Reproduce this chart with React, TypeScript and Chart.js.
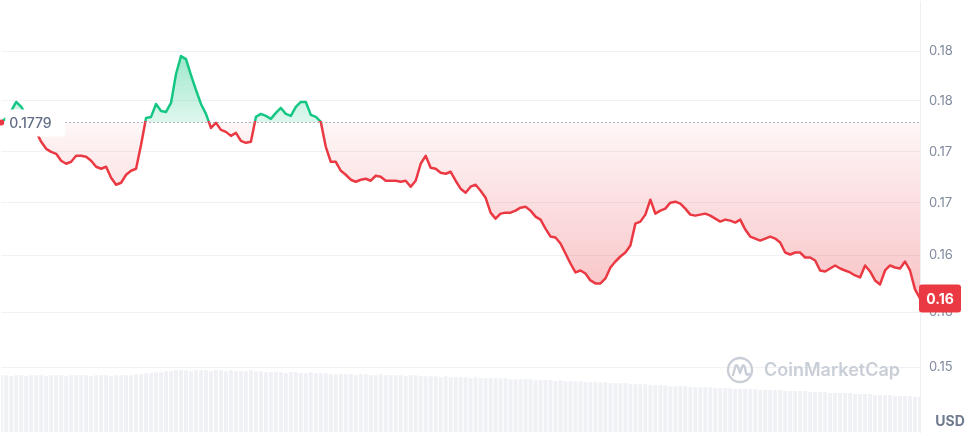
import React, { useEffect, useRef } from "react";
import { Chart, registerables } from "chart.js";

Chart.register(...registerables);

// Price (USD), one sample every ~7.8 minutes over 24h
const PRICES = [
  0.1779, 0.1783, 0.179, 0.1799, 0.1794, 0.1786, 0.1777, 0.1769, 0.1759, 0.1752,
  0.1749, 0.1747, 0.174, 0.1737, 0.1739, 0.1745, 0.1745, 0.1744, 0.174, 0.1734,
  0.1732, 0.1734, 0.1723, 0.1716, 0.1718, 0.1726, 0.173, 0.1732, 0.1756, 0.1783,
  0.1784, 0.1797, 0.179, 0.1789, 0.1798, 0.1827, 0.1845, 0.1842, 0.1826, 0.1811,
  0.1797, 0.1787, 0.1773, 0.1778, 0.1771, 0.1769, 0.1765, 0.1768, 0.176, 0.1758,
  0.1759, 0.1784, 0.1787, 0.1785, 0.1782, 0.1788, 0.1793, 0.1787, 0.1785, 0.1794,
  0.1799, 0.1799, 0.1786, 0.1784, 0.1779, 0.1754, 0.1739, 0.1739, 0.173, 0.1726,
  0.1721, 0.1719, 0.1721, 0.1722, 0.172, 0.1725, 0.1724, 0.172, 0.172, 0.172,
  0.1719, 0.172, 0.1714, 0.172, 0.1737, 0.1745, 0.1733, 0.1732, 0.1728, 0.1727,
  0.1729, 0.172, 0.1712, 0.1708, 0.1714, 0.1716, 0.171, 0.1703, 0.1688, 0.1682,
  0.1687, 0.1688, 0.1688, 0.169, 0.1693, 0.1694, 0.169, 0.1684, 0.1681, 0.1672,
  0.1664, 0.1663, 0.1657, 0.1647, 0.1637, 0.1628, 0.163, 0.1627, 0.162, 0.1617,
  0.1617, 0.1622, 0.1633, 0.1639, 0.1644, 0.1648, 0.1655, 0.1677, 0.1679, 0.1686,
  0.1701, 0.1687, 0.169, 0.1692, 0.1698, 0.1699, 0.1697, 0.1692, 0.1686, 0.1685,
  0.1686, 0.1687, 0.1685, 0.1682, 0.1679, 0.1681, 0.168, 0.1678, 0.1681, 0.1671,
  0.1664, 0.1662, 0.166, 0.1662, 0.1664, 0.1662, 0.1658, 0.1648, 0.1646, 0.1648,
  0.1648, 0.1643, 0.1643, 0.164, 0.163, 0.1629, 0.1632, 0.1635, 0.1632, 0.163,
  0.1628, 0.1625, 0.1623, 0.1635, 0.1629, 0.162, 0.1616, 0.163, 0.1635, 0.1633,
  0.1632, 0.1639, 0.163, 0.1611, 0.1602,
];

// Volume (millions USD)
const VOLUMES = [
  5.7, 5.7, 5.6, 5.7, 5.7, 5.6, 5.7, 5.7, 5.7, 5.6, 5.7, 5.7, 5.7, 5.6, 5.7, 5.7, 5.7, 5.7, 5.6, 5.7,
  5.7, 5.7, 5.6, 5.7, 5.7, 5.7, 5.7, 5.8, 5.8,
  5.9, 5.9, 6.0, 6.0, 6.1,
  6.1, 6.2, 6.2, 6.2, 6.1, 6.2, 6.2, 6.2, 6.1, 6.2, 6.2, 6.1, 6.2, 6.1, 6.1, 6.1, 6.2, 6.1, 6.1,
  6.0, 6.0, 6.0, 6.0, 5.9, 6.0, 6.0, 5.9, 5.9, 6.0, 5.9, 5.9,
  5.9, 5.8, 5.8, 5.8, 5.8, 5.8, 5.7, 5.8, 5.8, 5.7, 5.7, 5.8, 5.7, 5.7, 5.7, 5.7, 5.6, 5.7, 5.7, 5.6,
  5.6, 5.6, 5.6, 5.5, 5.6, 5.5, 5.5, 5.5, 5.5, 5.4, 5.5, 5.4, 5.4, 5.4, 5.4, 5.4,
  5.4, 5.3, 5.3, 5.3, 5.3, 5.3, 5.2, 5.2, 5.2, 5.2, 5.1, 5.2, 5.1, 5.1, 5.1, 5.1, 5.0, 5.0, 5.0, 5.0,
  5.0, 4.9, 4.9, 4.9, 4.9, 4.8, 4.8, 4.8, 4.8, 4.7, 4.7, 4.7, 4.7, 4.6, 4.6, 4.6, 4.6, 4.5, 4.5, 4.5,
  4.5, 4.5, 4.4, 4.4, 4.4, 4.4, 4.3, 4.3, 4.3, 4.3, 4.3, 4.2, 4.2, 4.2, 4.2, 4.2, 4.1, 4.1, 4.1, 4.1,
  4.1, 4.0, 4.0, 4.0, 4.0, 3.9, 3.9, 3.9, 3.9, 3.9, 3.8, 3.8, 3.8, 3.8, 3.7, 3.7, 3.7, 3.7, 3.6, 3.6,
  3.6, 3.6, 3.5, 3.5,
];

const TIME_LABELS = PRICES.map((_, i) => {
  const mins = Math.round((i * 1440) / (PRICES.length - 1));
  const h = Math.floor(mins / 60) % 24;
  const m = mins % 60;
  return `${String(h).padStart(2, "0")}:${String(m).padStart(2, "0")}`;
});

const REFERENCE_PRICE = 0.1779;
const REFERENCE_LABEL = "0.1779";
const LAST_PRICE_LABEL = "0.16";
const CURRENCY_LABEL = "USD";
const WATERMARK = "CoinMarketCap";

const TICK_VALUES = [0.1533, 0.1588, 0.1645, 0.1698, 0.1749, 0.18, 0.185];
const TICK_LABELS = ["0.15", "0.16", "0.16", "0.17", "0.17", "0.18", "0.18"];

const Y_MIN = 0.1468;
const Y_MAX = 0.19;
const VOL_MAX = 43.2;

const GREEN = "#16c784";
const RED = "#ea3943";
const FONT = "Inter, 'Noto Sans', sans-serif";

const overlayPlugin = {
  id: "cmcOverlay",
  beforeDatasetsDraw(chart: any) {
    const { ctx, chartArea } = chart;
    ctx.save();
    const cx = chartArea.right - 180;
    const cy = 370;
    ctx.strokeStyle = "#c9ced7";
    ctx.lineWidth = 2.4;
    ctx.lineCap = "round";
    ctx.lineJoin = "round";
    ctx.beginPath();
    ctx.arc(cx, cy, 12, 0, Math.PI * 2);
    ctx.stroke();
    ctx.beginPath();
    ctx.moveTo(cx - 7, cy + 5);
    ctx.lineTo(cx - 4.5, cy - 4);
    ctx.quadraticCurveTo(cx - 3, cy - 6, cx - 1.5, cy - 2);
    ctx.lineTo(cx, cy + 3);
    ctx.lineTo(cx + 2.5, cy - 4);
    ctx.quadraticCurveTo(cx + 4, cy - 6, cx + 5, cy - 2);
    ctx.lineTo(cx + 6, cy + 3);
    ctx.quadraticCurveTo(cx + 7, cy + 6, cx + 9, cy + 4);
    ctx.stroke();
    ctx.fillStyle = "#c9ced7";
    ctx.font = `600 18px ${FONT}`;
    ctx.textBaseline = "middle";
    ctx.textAlign = "left";
    ctx.fillText(WATERMARK, cx + 24, cy + 1);
    ctx.restore();
  },
  afterDatasetsDraw(chart: any) {
    const { ctx, chartArea, scales } = chart;
    const y = scales.y;
    const yb = Math.round(y.getPixelForValue(REFERENCE_PRICE)) + 0.5;
    ctx.save();
    ctx.strokeStyle = "#8e97a8";
    ctx.lineWidth = 1;
    ctx.setLineDash([1.5, 2.5]);
    ctx.beginPath();
    ctx.moveTo(chartArea.left + 64, yb);
    ctx.lineTo(chartArea.right, yb);
    ctx.stroke();
    ctx.setLineDash([]);
    ctx.fillStyle = "#ffffff";
    ctx.fillRect(chartArea.left + 4, yb - 13, 60, 27);
    ctx.fillStyle = "#616e85";
    ctx.font = `500 14px ${FONT}`;
    ctx.textBaseline = "middle";
    ctx.textAlign = "left";
    ctx.fillText(REFERENCE_LABEL, chartArea.left + 8, yb + 1);
    ctx.fillStyle = RED;
    ctx.beginPath();
    ctx.arc(chartArea.left, yb, 3, 0, Math.PI * 2);
    ctx.fill();
    ctx.restore();
  },
  afterDraw(chart: any) {
    const { ctx, chartArea, scales } = chart;
    const y = scales.y;
    const yl = y.getPixelForValue(PRICES[PRICES.length - 1]);
    ctx.save();
    ctx.fillStyle = RED;
    const bx = chartArea.right - 1;
    const bw = 42;
    const bh = 28;
    ctx.beginPath();
    (ctx as any).roundRect(bx, yl - bh / 2, bw, bh, 3);
    ctx.fill();
    ctx.fillStyle = "#ffffff";
    ctx.font = `700 14px ${FONT}`;
    ctx.textAlign = "center";
    ctx.textBaseline = "middle";
    ctx.fillText(LAST_PRICE_LABEL, bx + bw / 2, yl + 1);
    ctx.fillStyle = "#6f7a8f";
    ctx.font = `700 14px ${FONT}`;
    ctx.fillText(CURRENCY_LABEL, chartArea.right + 30, 422);
    ctx.restore();
  },
};

export default function App() {
  const canvasRef = useRef<HTMLCanvasElement | null>(null);

  useEffect(() => {
    document.body.style.margin = "0";
    const canvas = canvasRef.current;
    if (!canvas) return;
    Chart.defaults.font.family = FONT;

    const chart = new Chart(canvas, {
      type: "line",
      data: {
        labels: TIME_LABELS,
        datasets: [
          {
            type: "line",
            label: "Price",
            data: PRICES,
            yAxisID: "y",
            borderColor: RED,
            borderWidth: 2.5,
            pointRadius: 0,
            tension: 0,
            borderJoinStyle: "round",
            fill: { target: { value: REFERENCE_PRICE }, above: "rgba(22,199,132,0.2)", below: "rgba(234,57,67,0.1)" },
            order: 0,
          } as any,
          {
            type: "bar",
            label: "Volume",
            data: VOLUMES,
            yAxisID: "yv",
            backgroundColor: "#eff1f5",
            barPercentage: 0.78,
            categoryPercentage: 1,
            order: 1,
          } as any,
        ],
      },
      options: {
        responsive: false,
        animation: false,
        devicePixelRatio: 1,
        layout: { padding: { left: 0, right: 0, top: 0, bottom: 4 } },
        plugins: {
          legend: { display: false },
          tooltip: { enabled: false },
        },
        scales: {
          x: {
            type: "category",
            display: false,
            offset: false,
            grid: { display: false },
          },
          y: {
            position: "right",
            min: Y_MIN,
            max: Y_MAX,
            afterBuildTicks: (axis: any) => {
              axis.ticks = TICK_VALUES.map((v) => ({ value: v }));
            },
            afterFit: (axis: any) => {
              axis.width = 54;
              axis.paddingTop = 0;
              axis.paddingBottom = 0;
            },
            grid: { color: "#eff1f4", drawTicks: false, lineWidth: 1 },
            border: { display: true, color: "#eceff3" },
            ticks: {
              autoSkip: false,
              padding: 9,
              color: "#808a9d",
              font: { size: 13, family: FONT },
              callback: (_v: any, i: number) => TICK_LABELS[i],
            },
          },
          yv: {
            display: false,
            min: 0,
            max: VOL_MAX,
          },
        },
      },
      plugins: [overlayPlugin],
    } as any);

    const { ctx, chartArea, scales } = chart as any;
    const y = scales.y;
    const yb = y.getPixelForValue(REFERENCE_PRICE);
    const top = chartArea.top;
    const bottom = chartArea.bottom;
    const f = Math.min(1, Math.max(0, (yb - top) / (bottom - top)));
    const lineGrad = ctx.createLinearGradient(0, top, 0, bottom);
    lineGrad.addColorStop(0, GREEN);
    lineGrad.addColorStop(f, GREEN);
    lineGrad.addColorStop(f, RED);
    lineGrad.addColorStop(1, RED);
    const maxP = Math.max(...PRICES);
    const minP = Math.min(...PRICES);
    const aboveGrad = ctx.createLinearGradient(0, y.getPixelForValue(maxP), 0, yb);
    aboveGrad.addColorStop(0, "rgba(22,199,132,0.42)");
    aboveGrad.addColorStop(1, "rgba(22,199,132,0.14)");
    const belowGrad = ctx.createLinearGradient(0, yb, 0, y.getPixelForValue(minP));
    belowGrad.addColorStop(0, "rgba(234,57,67,0.04)");
    belowGrad.addColorStop(1, "rgba(234,57,67,0.3)");
    const ds: any = chart.data.datasets[0];
    ds.borderColor = lineGrad;
    ds.fill = { target: { value: REFERENCE_PRICE }, above: aboveGrad, below: belowGrad };
    chart.update("none");

    return () => {
      chart.destroy();
    };
  }, []);

  return (
    <div style={{ width: 974, height: 436, position: "relative", background: "#ffffff" }}>
      <canvas ref={canvasRef} width={974} height={436} style={{ display: "block", width: 974, height: 436 }} />
    </div>
  );
}
